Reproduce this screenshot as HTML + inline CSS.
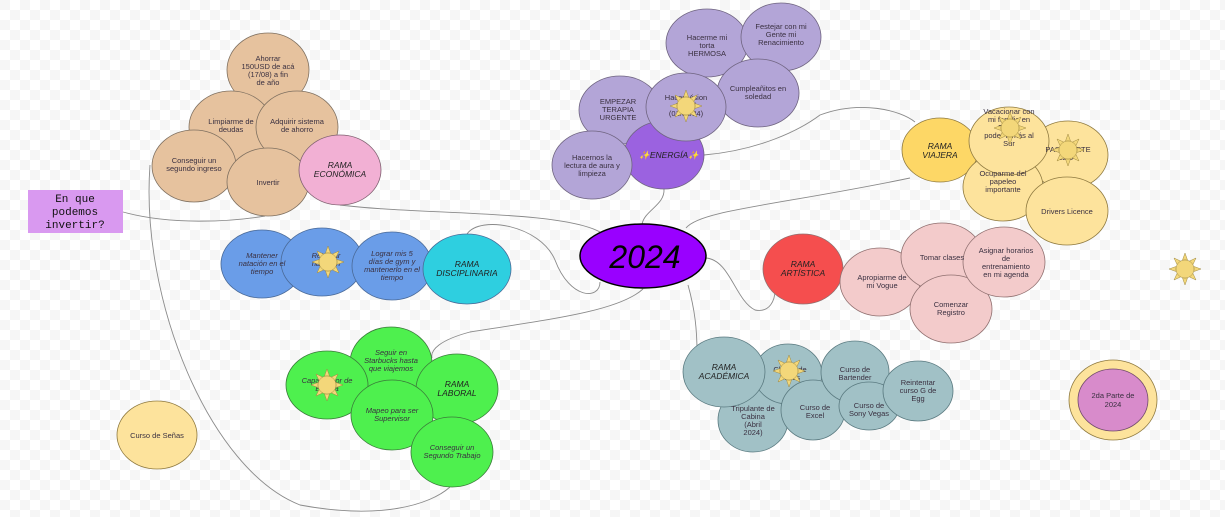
<!DOCTYPE html>
<html><head><meta charset="utf-8"><style>
html,body{margin:0;padding:0;background:#fbfbfb;}
svg{display:block}
text{font-family:"Liberation Sans",sans-serif;font-size:7.5px;fill:#3a3040;text-anchor:middle;}
.i{font-style:italic}
.b{font-size:8.5px;fill:#222;font-style:italic}
</style></head><body>
<svg width="1225" height="517" viewBox="0 0 1225 517" xmlns="http://www.w3.org/2000/svg">
<defs>
<pattern id="chk" width="20" height="20" patternUnits="userSpaceOnUse">
<rect width="20" height="20" fill="#ffffff"/><rect width="10" height="10" fill="#f6f6f6"/><rect x="10" y="10" width="10" height="10" fill="#f6f6f6"/>
</pattern>
<g id="sun">
<g fill="#f3d77a" stroke="#a08a40" stroke-width="0.5">
<polygon points="-2.5,-9 0,-16 2.5,-9"/><polygon points="-2.5,9 0,16 2.5,9"/>
<polygon points="-9,-2.5 -16,0 -9,2.5"/><polygon points="9,-2.5 16,0 9,2.5"/>
<polygon points="4.5,-8 11,-11 8,-4.5"/><polygon points="-4.5,-8 -11,-11 -8,-4.5"/>
<polygon points="4.5,8 11,11 8,4.5"/><polygon points="-4.5,8 -11,11 -8,4.5"/>
<circle r="9"/></g></g>
</defs>
<rect width="1225" height="517" fill="url(#chk)"/>

<g fill="none" stroke="#8a8a8a" stroke-width="0.9">
<path d="M123,212 C170,225 230,222 265,216"/>
<path d="M150,165 C140,300 210,470 300,505 C380,520 430,505 450,487"/>
<path d="M340,205 C420,215 560,210 600,232"/>
<path d="M467,234 C480,215 540,225 555,260 C570,300 600,300 600,282"/>
<path d="M643,289 C620,310 560,318 470,332 C440,340 430,350 432,358"/>
<path d="M664,189 C665,205 645,210 642,224"/>
<path d="M686,228 C700,210 780,205 910,178"/>
<path d="M704,155 C760,150 800,130 820,115 C860,100 900,110 915,122"/>
<path d="M706,258 C730,260 735,300 755,310 C770,313 775,300 775,290"/>
<path d="M688,285 C695,310 697,330 697,352"/>
</g>

<g stroke="#7f7060" stroke-width="0.8" fill="#e6c29e">
<ellipse cx="268" cy="70" rx="41" ry="37"/>
<ellipse cx="231" cy="127" rx="42" ry="36"/>
<ellipse cx="297" cy="127" rx="41" ry="36"/>
<ellipse cx="194" cy="166" rx="42" ry="36"/>
<ellipse cx="268" cy="182" rx="41" ry="34"/>
</g>
<ellipse cx="340" cy="170" rx="41" ry="35" fill="#f2b0d4" stroke="#7f6070" stroke-width="0.8"/>
<text x="268" y="61">Ahorrar</text><text x="268" y="69">150USD de acá</text><text x="268" y="77">(17/08) a fin</text><text x="268" y="85">de año</text>
<text x="231" y="124">Limpiarme de</text><text x="231" y="132">deudas</text>
<text x="297" y="124">Adquirir sistema</text><text x="297" y="132">de ahorro</text>
<text x="194" y="163">Conseguir un</text><text x="194" y="171">segundo ingreso</text>
<text x="268" y="185">Invertir</text>
<text x="340" y="168" class="b">RAMA</text><text x="340" y="177" class="b">ECONÓMICA</text>

<g stroke="#6f6480" stroke-width="0.8" fill="#b3a5d7">
<ellipse cx="707" cy="43" rx="41" ry="34"/>
<ellipse cx="781" cy="37" rx="40" ry="34"/>
<ellipse cx="758" cy="93" rx="41" ry="34"/>
<ellipse cx="620" cy="110" rx="41" ry="34"/>
<ellipse cx="664" cy="155" rx="40" ry="34" fill="#9b62e0"/>
<ellipse cx="686" cy="107" rx="40" ry="34"/>
<ellipse cx="592" cy="165" rx="40" ry="34"/>
</g>
<text x="707" y="40">Hacerme mi</text><text x="707" y="48">torta</text><text x="707" y="56">HERMOSA</text>
<text x="781" y="29">Festejar con mi</text><text x="781" y="37">Gente mi</text><text x="781" y="45">Renacimiento</text>
<text x="758" y="91">Cumpleañitos en</text><text x="758" y="99">soledad</text>
<text x="618" y="104">EMPEZAR</text><text x="618" y="112">TERAPIA</text><text x="618" y="120">URGENTE</text>
<text x="686" y="100">Hacer Vision</text><text x="686" y="108">Board</text><text x="686" y="116">(01/01/24)</text>
<use href="#sun" x="686" y="106"/>
<text x="669" y="158" class="b">✨ENERGÍA✨</text>
<text x="592" y="160">Hacernos la</text><text x="592" y="168">lectura de aura y</text><text x="592" y="176">limpieza</text>

<g stroke="#8f7a40" stroke-width="0.8" fill="#fde39c">
<ellipse cx="940" cy="150" rx="38" ry="32" fill="#fdd766"/>
<ellipse cx="1068" cy="155" rx="40" ry="34"/>
<ellipse cx="1003" cy="187" rx="40" ry="34"/>
<ellipse cx="1067" cy="211" rx="41" ry="34"/>
<ellipse cx="1009" cy="141" rx="40" ry="34"/>
</g>
<text x="940" y="149" class="b">RAMA</text><text x="940" y="158" class="b">VIAJERA</text>
<text x="1068" y="152">PASAPORTE</text><text x="1068" y="160">22/04</text>
<use href="#sun" x="1068" y="150"/>
<text x="1003" y="176">Ocuparme del</text><text x="1003" y="184">papeleo</text><text x="1003" y="192">importante</text>
<text x="1067" y="214">Drivers Licence</text>
<text x="1009" y="114">Vacacionar con</text><text x="1009" y="122">mi familia en</text><text x="1009" y="130">Rio de</text><text x="1009" y="138">poder ir más al</text><text x="1009" y="146">Sur</text>
<use href="#sun" x="1010" y="128"/>

<ellipse cx="643" cy="256" rx="63" ry="32" fill="#9900ff" stroke="#000" stroke-width="1.5"/>
<text x="645" y="268" style="font-size:32px;font-style:italic;fill:#000">2024</text>

<g stroke="#4a6a98" stroke-width="0.8" fill="#6a9de8">
<ellipse cx="262" cy="264" rx="41" ry="34"/>
<ellipse cx="322" cy="262" rx="41" ry="34"/>
<ellipse cx="392" cy="266" rx="40" ry="34"/>
<ellipse cx="467" cy="269" rx="44" ry="35" fill="#2ecfe0"/>
</g>
<text x="262" y="258" class="i">Mantener</text><text x="262" y="266" class="i">natación en el</text><text x="262" y="274" class="i">tiempo</text>
<text x="326" y="258" class="i">Retomar</text><text x="326" y="266" class="i">natación</text>
<use href="#sun" x="328" y="262"/>
<text x="392" y="256" class="i">Lograr mis 5</text><text x="392" y="264" class="i">días de gym y</text><text x="392" y="272" class="i">mantenerlo en el</text><text x="392" y="280" class="i">tiempo</text>
<text x="467" y="267" class="b">RAMA</text><text x="467" y="276" class="b">DISCIPLINARIA</text>

<g stroke="#3a7a3a" stroke-width="0.8" fill="#4ef04e">
<ellipse cx="391" cy="363" rx="41" ry="36"/>
<ellipse cx="327" cy="385" rx="41" ry="34"/>
<ellipse cx="457" cy="389" rx="41" ry="35"/>
<ellipse cx="392" cy="415" rx="41" ry="35"/>
<ellipse cx="452" cy="452" rx="41" ry="35"/>
</g>
<text x="391" y="355" class="i">Seguir en</text><text x="391" y="363" class="i">Starbucks hasta</text><text x="391" y="371" class="i">que viajemos</text>
<text x="327" y="383" class="i">Capacitador de</text><text x="327" y="391" class="i">Barista</text>
<use href="#sun" x="327" y="385"/>
<text x="457" y="387" class="b">RAMA</text><text x="457" y="396" class="b">LABORAL</text>
<text x="392" y="413" class="i">Mapeo para ser</text><text x="392" y="421" class="i">Supervisor</text>
<text x="452" y="450" class="i">Conseguir un</text><text x="452" y="458" class="i">Segundo Trabajo</text>

<g stroke="#907070" stroke-width="0.8" fill="#f3cbcb">
<ellipse cx="803" cy="269" rx="40" ry="35" fill="#f54e4e"/>
<ellipse cx="880" cy="282" rx="40" ry="34"/>
<ellipse cx="942" cy="257" rx="41" ry="34"/>
<ellipse cx="951" cy="309" rx="41" ry="34"/>
<ellipse cx="1004" cy="262" rx="41" ry="35"/>
</g>
<text x="803" y="267" class="b">RAMA</text><text x="803" y="276" class="b">ARTÍSTICA</text>
<text x="882" y="280">Apropiarme de</text><text x="882" y="288">mi Vogue</text>
<text x="942" y="260">Tomar clases</text>
<text x="951" y="307">Comenzar</text><text x="951" y="315">Registro</text>
<text x="1006" y="253">Asignar horarios</text><text x="1006" y="261">de</text><text x="1006" y="269">entrenamiento</text><text x="1006" y="277">en mi agenda</text>

<g stroke="#5a7a80" stroke-width="0.8" fill="#a1c1c6">
<ellipse cx="753" cy="420" rx="35" ry="32"/>
<ellipse cx="788" cy="374" rx="34" ry="30"/>
<ellipse cx="813" cy="410" rx="32" ry="30"/>
<ellipse cx="855" cy="372" rx="34" ry="31"/>
<ellipse cx="869" cy="406" rx="30" ry="24"/>
<ellipse cx="918" cy="391" rx="35" ry="30"/>
<ellipse cx="724" cy="372" rx="41" ry="35"/>
</g>
<text x="724" y="370" class="b">RAMA</text><text x="724" y="379" class="b">ACADÉMICA</text>
<text x="790" y="372">Clases de</text><text x="790" y="380">Inglés</text>
<use href="#sun" x="789" y="371"/>
<text x="855" y="372">Curso de</text><text x="855" y="380">Bartender</text>
<text x="753" y="411">Tripulante de</text><text x="753" y="419">Cabina</text><text x="753" y="427">(Abril</text><text x="753" y="435">2024)</text>
<text x="815" y="410">Curso de</text><text x="815" y="418">Excel</text>
<text x="869" y="408">Curso de</text><text x="869" y="416">Sony Vegas</text>
<text x="918" y="385">Reintentar</text><text x="918" y="393">curso G de</text><text x="918" y="401">Egg</text>

<ellipse cx="157" cy="435" rx="40" ry="34" fill="#fde39c" stroke="#8f7a40" stroke-width="0.8"/>
<text x="157" y="438">Curso de Señas</text>

<ellipse cx="1113" cy="400" rx="44" ry="40" fill="#fde39c" stroke="#8f7a40" stroke-width="0.8"/>
<ellipse cx="1113" cy="400" rx="35" ry="31" fill="#d88bcb" stroke="#6f4a6a" stroke-width="0.8"/>
<text x="1113" y="398">2da Parte de</text><text x="1113" y="407">2024</text>

<use href="#sun" x="1185" y="269"/>

<rect x="28" y="190" width="95" height="43" fill="#d999f0"/>
<text x="75" y="202" style="font-family:'Liberation Mono',monospace;font-size:11px;fill:#111">En que</text>
<text x="75" y="215" style="font-family:'Liberation Mono',monospace;font-size:11px;fill:#111">podemos</text>
<text x="75" y="228" style="font-family:'Liberation Mono',monospace;font-size:11px;fill:#111">invertir?</text>
</svg>
</body></html>
